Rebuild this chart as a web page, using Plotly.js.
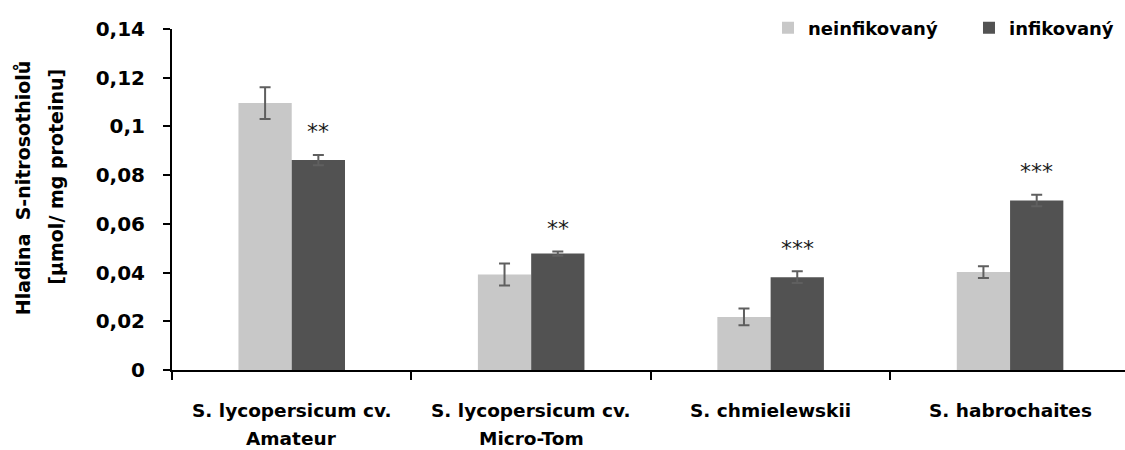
<!DOCTYPE html>
<html>
<head>
<meta charset="utf-8">
<script src="https://cdn.plot.ly/plotly-3.0.1.min.js"></script>
<style>
html,body{margin:0;padding:0;background:#fff;overflow:hidden;}
#chart{width:1125px;height:450px;}
</style>
</head>
<body>
<div id="chart"></div>
<script>
// ---- data ----
const categories = ["S. lycopersicum cv. Amateur", "S. lycopersicum cv. Micro-Tom", "S. chmielewskii", "S. habrochaites"];
const labelLine1 = ["S. lycopersicum cv.", "S. lycopersicum cv.", "S. chmielewskii", "S. habrochaites"];
const labelLine2 = ["Amateur", "Micro-Tom", "", ""];
const seriesNames = ["neinfikovaný", "infikovaný"];
const uninfected = [0.1096, 0.0392, 0.0218, 0.0402];
const uninfectedErr = [0.0065, 0.0045, 0.0034, 0.0024];
const infected = [0.0862, 0.0478, 0.0381, 0.0696];
const infectedErr = [0.0021, 0.0009, 0.0024, 0.0024];
const significance = ["**", "**", "***", "***"];
const yTickVals = [0, 0.02, 0.04, 0.06, 0.08, 0.1, 0.12, 0.14];
const yTickText = ["0", "0,02", "0,04", "0,06", "0,08", "0,1", "0,12", "0,14"];
const yTitleLines = ["Hladina  S-nitrosothiolů", "[µmol/ mg proteinu]"];

// ---- chart ----
const FONT = "DejaVu Sans";
const bargap = 0.555;
const barW = (1 - bargap) / 2;
const errStyle = {type: "data", visible: true, color: "#5f5f5f", thickness: 2, width: 5.5};

const traces = [
  {type: "bar", name: seriesNames[0], x: categories, y: uninfected, legend: "legend",
   marker: {color: "#c8c8c8"},
   error_y: Object.assign({array: uninfectedErr}, errStyle)},
  {type: "bar", name: seriesNames[1], x: categories, y: infected, legend: "legend2",
   marker: {color: "#525252"},
   error_y: Object.assign({array: infectedErr}, errStyle)}
];

const labelFont = {family: FONT, size: 18.5, color: "#000", weight: "bold"};
const annotations = [];
categories.forEach((c, i) => {
  annotations.push({xref: "x", yref: "paper", x: i, y: 0, yshift: -40, yanchor: "middle",
    text: labelLine1[i], showarrow: false, font: labelFont});
  if (labelLine2[i]) {
    annotations.push({xref: "x", yref: "paper", x: i, y: 0, yshift: -68, yanchor: "middle",
      text: labelLine2[i], showarrow: false, font: labelFont});
  }
  annotations.push({xref: "x", yref: "y", x: i + barW / 2, y: infected[i] + infectedErr[i],
    yshift: 23, yanchor: "middle", text: significance[i], showarrow: false,
    font: {family: FONT, size: 22, color: "#1a1a1a"}});
});
const yTitleFont = {family: FONT, size: 19, color: "#000", weight: "bold"};
annotations.push({xref: "paper", yref: "paper", x: 0, xshift: -149, y: 0.533, xanchor: "center", yanchor: "middle",
  textangle: -90, text: yTitleLines[0], showarrow: false, font: yTitleFont});
annotations.push({xref: "paper", yref: "paper", x: 0, xshift: -116, y: 0.567, xanchor: "center", yanchor: "middle",
  textangle: -90, text: yTitleLines[1], showarrow: false, font: yTitleFont});

const legendFont = {family: FONT, size: 18, color: "#000", weight: "bold"};
const layout = {
  width: 1125, height: 450,
  margin: {l: 172, r: 0, t: 29, b: 80, pad: 0},
  paper_bgcolor: "#fff", plot_bgcolor: "#fff",
  barmode: "group", bargap: bargap, bargroupgap: 0,
  showlegend: true,
  legend: {orientation: "h", x: 0.6254, xanchor: "left", y: 1.003, yanchor: "middle",
    font: legendFont, bgcolor: "rgba(0,0,0,0)"},
  legend2: {orientation: "h", x: 0.8363, xanchor: "left", y: 1.003, yanchor: "middle",
    font: legendFont, bgcolor: "rgba(0,0,0,0)"},
  xaxis: {type: "category", range: [-0.5, 3.48], showline: true, linecolor: "#000", linewidth: 2,
    ticks: "outside", tickson: "boundaries", ticklen: 8, tickwidth: 2, tickcolor: "#000",
    showticklabels: false, showgrid: false, zeroline: false, fixedrange: true},
  yaxis: {range: [0, 0.14], showline: true, linecolor: "#000", linewidth: 2,
    ticks: "outside", ticklen: 7, tickwidth: 2, tickcolor: "#000",
    tickvals: yTickVals, ticktext: yTickText, ticklabelstandoff: 14,
    tickfont: {family: FONT, size: 20, color: "#000", weight: "bold"},
    showgrid: false, zeroline: false, fixedrange: true},
  annotations: annotations,
  font: {family: FONT}
};

Plotly.newPlot("chart", traces, layout, {displayModeBar: false, staticPlot: true});
</script>
</body>
</html>
